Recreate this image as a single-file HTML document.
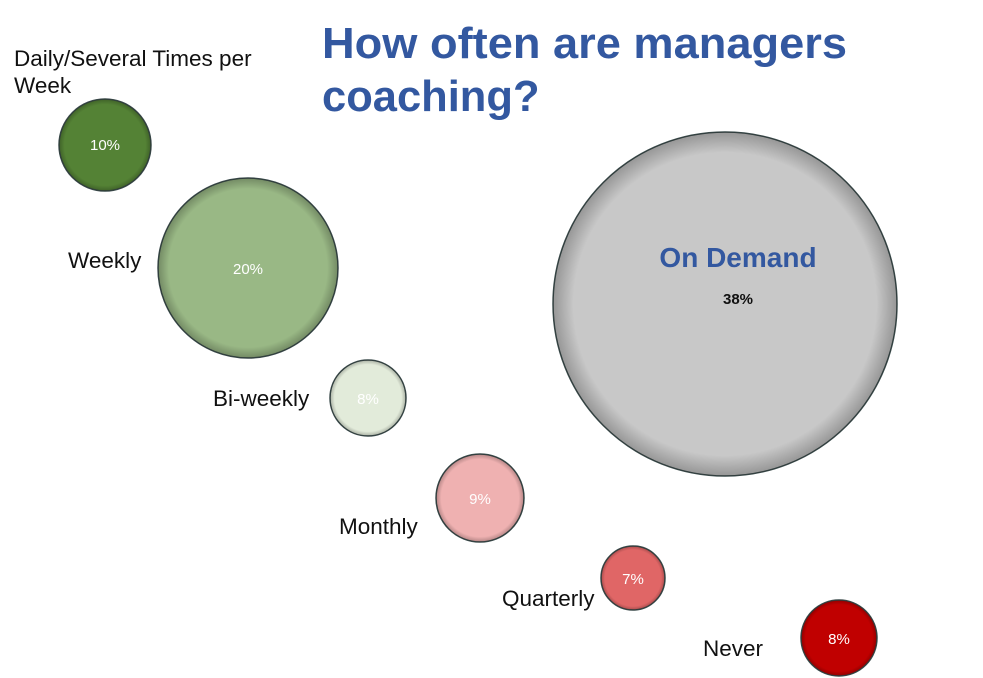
<!DOCTYPE html>
<html><head><meta charset="utf-8"><style>
html,body{margin:0;padding:0;background:#fff;}
svg{display:block;}
text{font-family:"Liberation Sans",Arial,sans-serif;}
</style></head><body>
<svg width="983" height="678" viewBox="0 0 983 678" xmlns="http://www.w3.org/2000/svg">
<defs>
<radialGradient id="sh" cx="50%" cy="50%" r="50%">
<stop offset="0.88" stop-color="#000" stop-opacity="0"/>
<stop offset="1" stop-color="#000" stop-opacity="0.25"/>
</radialGradient>
</defs>
<text x="322" y="58" font-size="43.5" font-weight="bold" fill="#3358A0" textLength="525" lengthAdjust="spacingAndGlyphs">How often are managers</text>
<text x="322" y="111" font-size="43.5" font-weight="bold" fill="#3358A0">coaching?</text>

<g stroke="#3a4a4a" stroke-width="1.5">
<circle cx="105" cy="145" r="46" fill="#548235"/>
<circle cx="248" cy="268" r="90" fill="#99B885"/>
<circle cx="368" cy="398" r="38" fill="#E2EBDA"/>
<circle cx="480" cy="498" r="44" fill="#EFB1B1"/>
<circle cx="633" cy="578" r="32" fill="#E06666"/>
<circle cx="839" cy="638" r="38" fill="#C00000"/>
<circle cx="725" cy="304" r="172" fill="#C8C8C8"/>
</g>
<g fill="url(#sh)">
<circle cx="105" cy="145" r="46"/><circle cx="248" cy="268" r="90"/>
<circle cx="368" cy="398" r="38"/><circle cx="480" cy="498" r="44"/>
<circle cx="633" cy="578" r="32"/><circle cx="839" cy="638" r="38"/>
<circle cx="725" cy="304" r="172"/>
</g>

<g font-size="15" fill="#fff" text-anchor="middle">
<text x="105" y="150">10%</text>
<text x="248" y="274">20%</text>
<text x="368" y="404">8%</text>
<text x="480" y="504">9%</text>
<text x="633" y="584">7%</text>
<text x="839" y="644">8%</text>
</g>
<text x="738" y="267" font-size="28" font-weight="bold" fill="#3358A0" text-anchor="middle">On Demand</text>
<text x="738" y="304" font-size="15" font-weight="bold" fill="#111" text-anchor="middle">38%</text>

<g font-size="22.5" fill="#111">
<text x="14" y="66">Daily/Several Times per</text>
<text x="14" y="93">Week</text>
<text x="68" y="268">Weekly</text>
<text x="213" y="406">Bi-weekly</text>
<text x="339" y="534">Monthly</text>
<text x="502" y="606">Quarterly</text>
<text x="703" y="656">Never</text>
</g>
</svg>
</body></html>
